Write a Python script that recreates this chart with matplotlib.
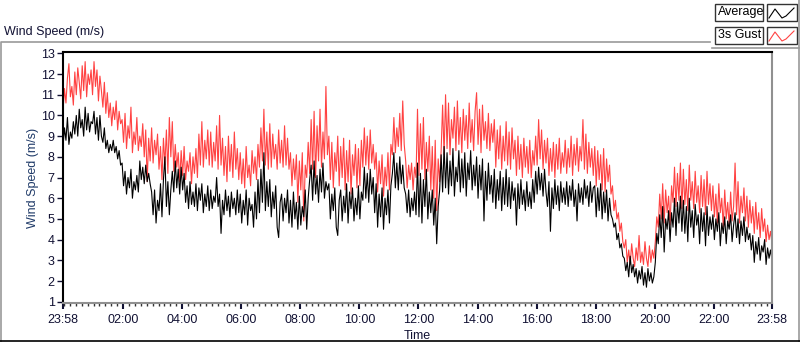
import numpy as np
import matplotlib.pyplot as plt
from matplotlib.lines import Line2D
from matplotlib.patches import Rectangle

plt.rcParams['font.family'] = ['Liberation Sans', 'DejaVu Sans']

# wind speed (m/s), 20 samples per hour starting at 23:58 (one row per hour)
gust = [
    10.2, 11.3, 10.6, 11.8, 12.5, 10.9, 11.4, 10.5, 12.1, 11.0, 12.3, 11.6, 10.8, 12.4, 11.2, 12.6, 10.9, 12.0, 11.5, 12.2,
    11.0, 12.6, 11.4, 12.2, 10.7, 11.9, 11.2, 10.4, 11.6, 10.1, 11.1, 9.9, 10.6, 9.5, 10.4, 9.8, 10.7, 9.3, 10.2, 9.6,
    9.8, 8.7, 10.1, 8.4, 9.5, 8.9, 10.4, 8.2, 9.2, 8.6, 9.9, 8.3, 9.0, 8.5, 9.6, 8.0, 9.3, 6.8, 8.9, 7.8,
    9.4, 7.7, 8.8, 8.1, 9.1, 7.4, 8.5, 6.9, 8.9, 7.6, 9.3, 7.2, 9.9, 8.0, 9.7, 7.3, 8.6, 7.5, 8.2, 6.8,
    8.3, 7.1, 8.5, 6.9, 7.8, 7.3, 8.2, 6.7, 8.0, 7.2, 8.4, 7.0, 9.1, 7.6, 9.7, 7.5, 8.8, 7.9, 9.3, 7.6,
    9.2, 7.5, 8.7, 7.8, 9.5, 7.4, 10.0, 7.6, 8.9, 7.1, 8.5, 6.8, 9.0, 7.3, 8.6, 7.0, 9.2, 7.4, 8.4, 6.9,
    8.2, 6.7, 7.9, 6.5, 8.5, 7.0, 7.6, 6.6, 8.3, 7.2, 8.0, 6.9, 8.6, 7.5, 9.4, 7.8, 10.3, 7.6, 9.2, 7.4,
    9.6, 7.5, 9.1, 7.9, 8.6, 7.4, 9.3, 7.7, 8.8, 7.5, 9.5, 7.6, 8.9, 7.4, 8.2, 6.6, 7.9, 6.9, 8.1, 5.8,
    7.8, 6.4, 8.2, 4.9, 7.6, 7.0, 8.7, 7.2, 9.8, 7.4, 10.2, 7.0, 9.5, 7.8, 10.3, 7.5, 9.2, 7.9, 11.4, 8.1,
    9.0, 6.9, 8.7, 6.5, 8.2, 7.3, 9.0, 6.6, 8.5, 7.0, 8.9, 6.4, 8.3, 6.8, 8.8, 6.2, 8.1, 7.1, 8.6, 6.5,
    8.4, 6.6, 8.8, 7.5, 9.4, 7.6, 9.0, 7.4, 9.3, 7.7, 8.6, 7.4, 8.2, 6.3, 7.8, 6.7, 8.1, 6.1, 7.5, 6.6,
    8.2, 6.4, 8.6, 8.1, 9.9, 8.2, 9.4, 8.5, 10.1, 8.3, 10.7, 8.6, 7.8, 6.5, 7.6, 6.9, 7.7, 6.4, 7.5, 7.0,
    10.3, 7.1, 9.6, 7.4, 9.9, 6.9, 8.7, 7.3, 9.0, 6.4, 8.5, 6.0, 8.8, 5.4, 7.9, 6.8, 8.3, 10.5, 8.1, 11.0,
    8.4, 10.6, 8.1, 9.8, 8.9, 10.4, 8.3, 10.7, 8.6, 9.9, 8.2, 10.3, 8.8, 10.0, 8.4, 10.6, 8.7, 9.8, 8.3, 10.2,
    11.1, 8.6, 10.3, 8.2, 10.5, 8.8, 9.7, 8.4, 10.1, 8.3, 9.6, 8.7, 9.8, 7.5, 9.3, 7.9, 9.5, 7.4, 9.0, 7.8,
    9.7, 7.6, 9.2, 7.4, 9.4, 7.9, 8.8, 7.1, 9.0, 7.4, 8.6, 7.0, 8.9, 7.5, 8.5, 7.2, 8.8, 7.0, 8.3, 7.6,
    9.0, 7.6, 9.8, 7.9, 9.3, 7.4, 8.8, 7.7, 8.9, 7.1, 8.4, 7.3, 8.7, 7.0, 8.6, 7.4, 8.9, 7.2, 8.2, 7.5,
    8.8, 7.2, 8.4, 7.5, 9.0, 7.1, 8.6, 7.6, 8.9, 7.3, 8.5, 7.8, 9.8, 7.4, 9.1, 7.2, 8.7, 7.5, 8.4, 7.1,
    8.5, 6.6, 8.3, 6.9, 8.1, 6.4, 8.4, 6.3, 7.9, 6.8, 7.6, 6.2, 6.6, 5.4, 5.9, 5.0, 5.3, 4.4, 4.8, 3.9,
    3.6, 4.0, 2.9, 3.5, 2.8, 3.8, 3.1, 2.7, 3.6, 3.0, 4.2, 2.9, 3.4, 2.8, 3.9, 3.1, 2.7, 3.7, 2.9, 3.5,
    3.1, 3.9, 5.1, 4.6, 6.2, 5.0, 6.7, 4.8, 6.4, 5.3, 6.1, 4.7, 6.6, 5.8, 7.5, 5.6, 7.2, 5.9, 7.7, 5.5,
    7.4, 5.7, 6.9, 5.4, 7.6, 5.9, 6.8, 5.5, 7.3, 5.8, 6.6, 5.3, 7.1, 5.6, 6.9, 5.2, 7.3, 5.7, 6.7, 5.4,
    6.6, 5.1, 6.2, 4.8, 6.7, 5.3, 6.0, 4.6, 6.4, 5.0, 5.8, 4.7, 6.3, 4.9, 5.6, 7.7, 5.2, 6.8, 4.8, 6.1,
    5.3, 6.5, 4.9, 6.1, 4.6, 5.9, 4.8, 5.6, 4.3, 5.8, 4.5, 5.3, 4.1, 5.5, 4.4, 5.0, 3.9, 4.7, 4.0, 4.4,
    3.8,
]
average = [
    8.5, 9.4, 8.8, 9.9, 8.6, 9.2, 8.9, 9.7, 9.1, 10.0, 9.0, 10.3, 9.4, 9.8, 9.0, 10.4, 9.3, 10.1, 9.2, 9.7,
    9.6, 10.2, 9.1, 9.9, 8.8, 10.0, 9.0, 8.7, 9.4, 8.4, 8.8, 8.2, 8.6, 8.3, 8.8, 8.2, 8.5, 7.9, 8.3, 7.6,
    7.7, 6.6, 7.3, 6.2, 7.0, 6.5, 7.4, 6.0, 6.8, 6.4, 7.1, 6.3, 7.8, 6.9, 7.5, 6.7, 7.6, 6.8, 7.2, 6.7,
    6.3, 5.2, 6.4, 4.8, 5.9, 5.4, 6.7, 5.1, 6.9, 8.0, 5.6, 6.8, 5.2, 6.4, 7.3, 6.3, 7.8, 6.5, 7.4, 6.2,
    7.5, 6.4, 7.2, 5.8, 6.6, 5.5, 6.8, 5.7, 6.3, 5.6, 6.7, 5.4, 6.5, 5.9, 6.7, 5.3, 6.2, 5.6, 6.6, 5.4,
    6.4, 5.5, 6.1, 5.8, 7.0, 5.6, 6.2, 4.3, 5.9, 5.2, 6.4, 5.4, 6.1, 5.1, 6.3, 5.5, 6.0, 5.2, 6.4, 5.3,
    6.2, 4.8, 5.9, 5.2, 6.4, 4.7, 6.0, 5.4, 5.7, 4.6, 6.3, 5.0, 6.9, 5.3, 7.4, 5.8, 8.2, 5.4, 6.8, 5.6,
    6.9, 5.1, 6.3, 5.5, 6.6, 4.6, 4.1, 5.8, 6.2, 4.9, 6.0, 5.3, 6.4, 4.8, 5.9, 4.6, 6.3, 5.0, 5.8, 4.5,
    6.1, 4.7, 5.6, 5.1, 6.4, 4.5, 6.0, 6.9, 7.6, 5.9, 7.8, 6.2, 7.1, 5.8, 7.4, 6.3, 7.7, 6.0, 6.8, 6.4,
    6.7, 5.0, 6.2, 5.4, 6.5, 4.6, 4.2, 5.9, 6.4, 4.9, 6.1, 5.3, 6.7, 4.8, 6.3, 5.5, 6.5, 4.9, 6.0, 5.2,
    6.6, 5.0, 6.3, 5.9, 7.5, 6.0, 7.2, 5.8, 7.4, 6.2, 7.0, 5.3, 6.7, 4.6, 6.2, 5.1, 6.5, 4.5, 6.0, 5.2,
    6.4, 4.8, 6.6, 7.2, 8.2, 6.5, 7.7, 6.4, 8.0, 6.7, 7.6, 6.5, 6.2, 5.3, 6.4, 5.1, 6.0, 5.4, 6.3, 5.2,
    7.7, 5.1, 7.2, 4.8, 6.9, 5.6, 7.4, 5.0, 6.3, 5.3, 6.4, 4.7, 6.0, 3.8, 5.6, 6.4, 8.1, 6.3, 8.5, 6.5,
    8.2, 6.2, 7.8, 6.6, 8.4, 6.1, 7.5, 6.8, 8.3, 6.3, 7.9, 6.5, 8.2, 6.1, 7.7, 6.9, 8.3, 6.4, 7.6, 6.6,
    8.0, 6.0, 7.6, 6.4, 7.9, 4.9, 7.3, 5.9, 7.7, 6.2, 7.1, 5.8, 7.4, 5.5, 6.9, 5.9, 7.3, 5.4, 7.0, 5.7,
    7.4, 5.6, 7.0, 5.5, 6.8, 5.9, 6.5, 4.7, 6.7, 5.5, 6.9, 5.7, 6.4, 5.4, 6.8, 5.6, 6.3, 5.5, 6.9, 5.8,
    7.3, 6.2, 7.5, 6.4, 7.2, 6.1, 7.4, 6.3, 5.6, 6.8, 4.4, 6.5, 5.5, 6.9, 5.7, 6.6, 5.4, 6.8, 5.8, 6.5,
    5.7, 6.8, 5.6, 6.6, 5.9, 6.9, 5.6, 6.4, 4.9, 6.7, 5.8, 6.5, 5.7, 6.9, 6.0, 6.6, 5.6, 6.8, 5.8, 6.5,
    6.6, 5.1, 6.5, 5.4, 6.7, 5.0, 6.3, 5.3, 6.4, 4.9, 6.0, 5.2, 5.0, 4.6, 4.8, 4.0, 4.3, 3.6, 3.8, 3.2,
    3.1, 2.5, 2.9, 2.2, 3.2, 2.4, 2.8, 2.2, 2.6, 1.9, 2.5, 2.1, 2.7, 1.8, 2.4, 1.7, 2.6, 2.0, 2.4, 1.9,
    2.2, 2.9, 4.3, 3.8, 5.2, 4.1, 5.6, 3.4, 5.0, 4.5, 5.4, 3.9, 5.3, 4.6, 6.0, 4.2, 5.8, 4.8, 6.1, 4.4,
    5.9, 4.3, 5.6, 3.9, 6.0, 4.6, 5.4, 4.1, 5.7, 4.7, 5.2, 3.8, 5.5, 4.4, 5.3, 3.7, 5.6, 4.2, 5.1, 4.5,
    5.2, 4.0, 5.0, 4.4, 5.3, 3.7, 4.8, 4.3, 5.1, 3.8, 4.9, 4.5, 5.2, 3.9, 4.7, 5.3, 4.1, 5.0, 3.8, 4.9,
    4.2, 5.1, 3.9, 4.6, 4.0, 4.3, 3.5, 4.2, 2.9, 3.9, 3.3, 4.1, 3.0, 3.7, 3.4, 4.0, 2.8, 3.6, 3.1, 3.5,
    3.0,
]
tick_labels = ['23:58', '02:00', '04:00', '06:00', '08:00', '10:00', '12:00',
               '14:00', '16:00', '18:00', '20:00', '22:00', '23:58']
y_ticks = list(range(1, 14))

hours = np.arange(len(gust)) / 20.0   # hours since 23:58

# tick positions in hours since 23:58
tick_pos = [0.0] + [int(l[:2]) + 2 / 60 for l in tick_labels[1:-1]] + [24.0]
minor_pos = np.arange(2 / 60, 24.01, 0.2)
minor_pos = minor_pos[(minor_pos > 0.01) & (minor_pos < 23.99)]

W, H = 800, 342
fig = plt.figure(figsize=(W / 100, H / 100), dpi=100)


def fx(x):
    return x / W


def fy(y):
    return 1 - y / H


ax = fig.add_axes([fx(63), fy(303), fx(772 - 63), (303 - 52) / H])
ax.plot(hours, gust, color='#ff4242', lw=0.8)
ax.plot(hours, average, color='black', lw=0.8)
ax.set_xlim(0, 24)
ax.set_ylim(0.937, 13.065)

ax.set_yticks(y_ticks)
ax.set_xticks(tick_pos)
ax.set_xticklabels(tick_labels)
ax.set_xticks(minor_pos, minor=True)
ax.tick_params(axis='y', length=4, width=1, pad=2, labelsize=9, colors='#111133')
ax.tick_params(axis='x', which='major', length=4, width=1.5, pad=4, labelsize=9,
               colors='#111133')
ax.tick_params(axis='x', which='minor', length=2, width=1, color='#333333')
for s in ['left', 'top']:
    ax.spines[s].set_color('black')
    ax.spines[s].set_linewidth(1.5)
for s in ['right', 'bottom']:
    ax.spines[s].set_color('#909090')
    ax.spines[s].set_linewidth(1.5)

ax.set_ylabel('Wind Speed (m/s)', fontsize=9, color='#1f3a68', labelpad=1)
ax.set_xlabel('Time', fontsize=9, color='#111133', labelpad=3)

# outer frame
fig.add_artist(Line2D([fx(0.5), fx(0.5), fx(710)], [fy(342), fy(42), fy(42)],
                      transform=fig.transFigure, color='#9a9a9a', lw=1.2))
fig.add_artist(Line2D([fx(712), fx(799)], [fy(48), fy(48)],
                      transform=fig.transFigure, color='#9a9a9a', lw=1.2))
fig.add_artist(Line2D([fx(799), fx(799)], [fy(0), fy(342)],
                      transform=fig.transFigure, color='#9a9a9a', lw=1.2))
fig.add_artist(Line2D([fx(0), fx(800)], [fy(341), fy(341)],
                      transform=fig.transFigure, color='black', lw=1.2))
fig.text(fx(4), fy(32), 'Wind Speed (m/s)', fontsize=9, color='#111133',
         ha='left', va='center')

# legend boxes
for row, (name, col) in enumerate([('Average', 'black'), ('3s Gust', '#ff4242')]):
    top = 4 + row * 23
    fig.add_artist(Rectangle((fx(715), fy(top + 17)), fx(48), 17 / H,
                             transform=fig.transFigure, fc='white', ec='#333333', lw=1))
    fig.text(fx(718), fy(top + 8.5), name, fontsize=9, color='black',
             ha='left', va='center')
    fig.add_artist(Rectangle((fx(767), fy(top + 17)), fx(30), 17 / H,
                             transform=fig.transFigure, fc='white', ec='#333333', lw=1))
    fig.add_artist(Line2D([fx(769), fx(775), fx(782), fx(786), fx(794)],
                          [fy(top + 14), fy(top + 5), fy(top + 14), fy(top + 12), fy(top + 4)],
                          transform=fig.transFigure, color=col, lw=0.8))

fig.savefig('out.png', dpi=100)
